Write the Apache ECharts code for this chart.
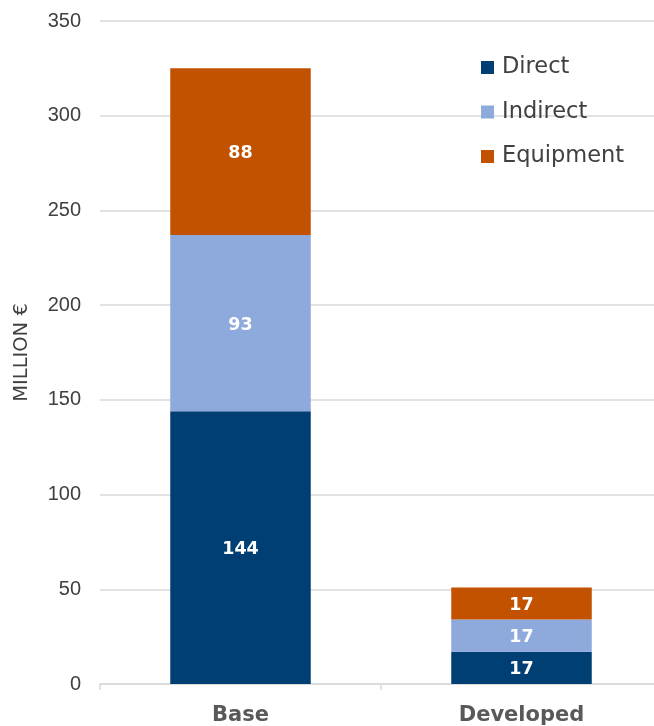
<!DOCTYPE html>
<html>
<head>
<meta charset="utf-8">
<script src="https://cdn.jsdelivr.net/npm/echarts@6/dist/echarts.min.js"></script>
<style>
  html, body { margin: 0; padding: 0; background: #fff; overflow: hidden; }
  /* the plot runs slightly past the right edge of the window */
  #chart { width: 662px; height: 726px; }
</style>
</head>
<body>
<div id="chart"></div>
<script>
// Cost breakdown per scenario, million euro
const categories = ['Base', 'Developed'];
const direct = [144, 17];
const indirect = [93, 17];
const equipment = [88, 17];
const yTicks = { min: 0, max: 350, interval: 50 };

const colors = { direct: '#003F73', indirect: '#8EA9DB', equipment: '#C25100' };

const chart = echarts.init(document.getElementById('chart'), null, { renderer: 'canvas' });

const labelStyle = {
  show: true,
  position: 'inside',
  offset: [0, 2],
  color: '#ffffff',
  fontFamily: 'DejaVu Sans',
  fontWeight: 'bold',
  fontSize: 17.5
};

function barSeries(name, data, color) {
  return {
    name: name,
    type: 'bar',
    stack: 'total',
    barWidth: '50%',
    data: data,
    itemStyle: { color: color },
    label: labelStyle
  };
}

chart.setOption({
  animation: false,
  backgroundColor: '#ffffff',
  grid: { left: 100, top: 21, right: 0, height: 665, containLabel: false },
  legend: {
    orient: 'vertical',
    left: 481,
    top: 56,
    padding: 0,
    itemWidth: 13,
    itemHeight: 13,
    itemGap: 21.5,
    icon: 'rect',
    textStyle: { fontFamily: 'DejaVu Sans', fontSize: 22.5, color: '#404040', lineHeight: 23, padding: [0, 0, 0, 3] },
    data: ['Direct', 'Indirect', 'Equipment']
  },
  xAxis: {
    type: 'category',
    data: categories,
    axisLine: { lineStyle: { color: '#d9d9d9', width: 1.5 } },
    axisTick: { show: true, alignWithLabel: false, length: 6, lineStyle: { color: '#d9d9d9', width: 1.5 } },
    axisLabel: {
      margin: 21,
      color: '#595959',
      fontFamily: 'DejaVu Sans',
      fontWeight: 'bold',
      fontSize: 21
    }
  },
  yAxis: {
    type: 'value',
    min: yTicks.min,
    max: yTicks.max,
    interval: yTicks.interval,
    name: 'MILLION €',
    nameLocation: 'middle',
    nameGap: 68,
    nameRotate: 90,
    nameTextStyle: { fontFamily: 'DejaVu Sans', fontSize: 19.5, color: '#404040' },
    axisLine: { show: false },
    axisTick: { show: false },
    axisLabel: { margin: 19, color: '#404040', fontFamily: 'Liberation Sans', fontSize: 20 },
    splitLine: { lineStyle: { color: '#d9d9d9', width: 1.5 } }
  },
  series: [
    barSeries('Direct', direct, colors.direct),
    barSeries('Indirect', indirect, colors.indirect),
    barSeries('Equipment', equipment, colors.equipment)
  ]
});
</script>
</body>
</html>
